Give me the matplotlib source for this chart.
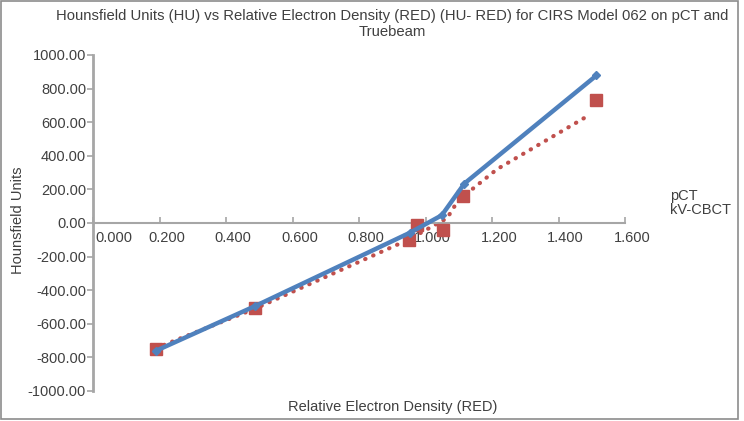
import numpy as np
import matplotlib
matplotlib.use('Agg')
import matplotlib.pyplot as plt
from matplotlib.patches import Rectangle
from matplotlib.transforms import ScaledTranslation

plt.rcParams['font.family'] = ['Liberation Sans', 'DejaVu Sans']

# pCT (blue, solid line with diamonds)
pct_red = [0.19, 0.487, 0.953, 1.049, 1.117, 1.514]
pct_hu = [-760, -495, -58, 46, 235, 878]

# kV-CBCT (red squares)
cbct_red = [0.189, 0.487, 0.950, 0.975, 1.052, 1.114, 1.514]
cbct_hu = [-750, -505, -99, -14, -43, 159, 732]

# kV-CBCT dotted trend line
trend_red = [0.189, 0.487, 0.950, 1.065, 1.089, 1.114, 1.215, 1.480]
trend_hu = [-745, -510, -98, 29, 105, 159, 320, 628]

x_ticks = [0.0, 0.2, 0.4, 0.6, 0.8, 1.0, 1.2, 1.4, 1.6]
y_ticks = [-1000, -800, -600, -400, -200, 0, 200, 400, 600, 800, 1000]

title = ('Hounsfield Units (HU) vs Relative Electron Density (RED) (HU- RED) for CIRS Model 062 on pCT and\n'
         'Truebeam')

blue = '#4f81bd'
red = '#c0504d'
axis_gray = '#a6a6a6'
text_col = '#404040'

fig = plt.figure(figsize=(7.44, 4.21), dpi=100)
ax = fig.add_axes([93 / 744, 1 - 391 / 421, (625 - 93) / 744, (391 - 55) / 421])

ax.plot(trend_red, trend_hu, color=red, lw=3, ls=(0, (0.1, 2.0)),
        dash_capstyle='round', zorder=2)
ax.plot(cbct_red, cbct_hu, ls='none', marker='s', ms=8.5, color=red, zorder=3)
ax.plot(pct_red, pct_hu, color=blue, lw=3.2, marker='D', ms=4.5, zorder=4)

ax.set_xlim(0, 1.6)
ax.set_ylim(-1000, 1000)
ax.set_xticks(x_ticks)
ax.set_yticks(y_ticks)
ax.set_xticklabels(['%.3f' % v for v in x_ticks])
ax.set_yticklabels(['%.2f' % v for v in y_ticks])

for s in ['top', 'right']:
    ax.spines[s].set_visible(False)
ax.spines['bottom'].set_position(('data', 0))
ax.spines['left'].set_color(axis_gray)
ax.spines['left'].set_linewidth(2)
ax.spines['bottom'].set_color(axis_gray)
ax.spines['bottom'].set_linewidth(1.5)

ax.tick_params(axis='y', direction='out', length=4, width=1.2, color=axis_gray,
               labelsize=10.5, labelcolor=text_col, pad=1)
ax.tick_params(axis='x', direction='in', length=4, width=1.2, color=axis_gray,
               labelsize=10.5, labelcolor=text_col, pad=6)

for i, lab in enumerate(ax.get_xticklabels()):
    dx = 21 if i == 0 else 7
    lab.set_transform(lab.get_transform() + ScaledTranslation(dx / 100, 0, fig.dpi_scale_trans))

fig.text(392 / 744, 1 - 24 / 421, title, ha='center', va='center', fontsize=10.7,
         color=text_col, linespacing=1.1)
fig.text(18 / 744, 1 - 220 / 421, 'Hounsfield Units', rotation=90, ha='center',
         va='center', fontsize=10.5, color=text_col)
fig.text(393 / 744, 1 - 407 / 421, 'Relative Electron Density (RED)', ha='center',
         va='center', fontsize=10.5, color=text_col)

fig.text(670 / 744, 1 - 196 / 421, 'pCT', ha='left', va='center', fontsize=10.5, color=text_col)
fig.text(670 / 744, 1 - 210 / 421, 'kV-CBCT', ha='left', va='center', fontsize=10.5, color=text_col)

fig.patches.append(Rectangle((0.002, 0.004), 0.99, 0.993, transform=fig.transFigure,
                             fill=False, edgecolor='#8c8c8c', lw=1.2))

fig.savefig('out.png', dpi=100)
